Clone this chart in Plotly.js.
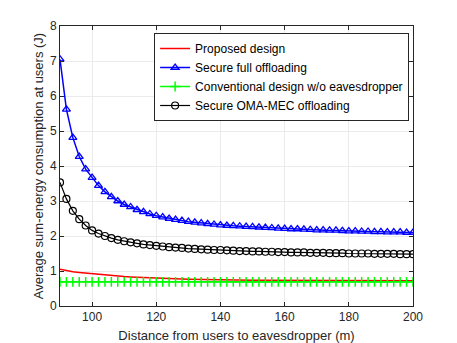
<!DOCTYPE html>
<html>
<head>
<meta charset="utf-8">
<script src="https://cdn.plot.ly/plotly-3.0.1.min.js"></script>
<style>
  html, body { margin: 0; padding: 0; background: #fff; }
  #plotArea { width: 457px; height: 343px; }
</style>
</head>
<body>
<div id="plotArea"></div>
<script>
// distance (m), step 2
var distance = [];
for (var d = 90; d <= 200; d += 2) distance.push(d);

var proposed = [1.05, 1.01, 0.98, 0.96, 0.94, 0.92, 0.90, 0.88, 0.87, 0.85,
  0.84, 0.83, 0.82, 0.81, 0.80, 0.79, 0.785, 0.78, 0.775, 0.77,
  0.765, 0.76, 0.756, 0.752, 0.748, 0.745, 0.743, 0.741, 0.739, 0.737,
  0.735, 0.734, 0.733, 0.732, 0.731, 0.730, 0.729, 0.728, 0.727, 0.726,
  0.725, 0.725, 0.724, 0.724, 0.723, 0.723, 0.722, 0.722, 0.721, 0.721,
  0.721, 0.720, 0.720, 0.720, 0.720, 0.720];

var fullOffload = [7.05, 5.62, 4.81, 4.27, 3.91, 3.67, 3.44, 3.26, 3.12, 3.00,
  2.90, 2.83, 2.75, 2.69, 2.63, 2.58, 2.54, 2.50, 2.47, 2.44,
  2.41, 2.39, 2.37, 2.35, 2.33, 2.31, 2.30, 2.29, 2.28, 2.27,
  2.26, 2.25, 2.24, 2.23, 2.22, 2.21, 2.20, 2.20, 2.19, 2.18,
  2.17, 2.17, 2.16, 2.16, 2.15, 2.14, 2.14, 2.13, 2.13, 2.12,
  2.12, 2.11, 2.11, 2.11, 2.10, 2.10];

var conventional = [];
for (var i = 0; i < distance.length; i++) conventional.push(0.69);

var omaMec = [3.53, 3.06, 2.72, 2.48, 2.30, 2.16, 2.07, 2.00, 1.94, 1.89,
  1.85, 1.82, 1.79, 1.76, 1.74, 1.72, 1.70, 1.68, 1.67, 1.66,
  1.64, 1.63, 1.62, 1.61, 1.60, 1.60, 1.59, 1.58, 1.57, 1.57,
  1.56, 1.56, 1.55, 1.55, 1.54, 1.54, 1.53, 1.53, 1.53, 1.52,
  1.52, 1.52, 1.51, 1.51, 1.51, 1.50, 1.50, 1.50, 1.50, 1.49,
  1.49, 1.49, 1.49, 1.48, 1.48, 1.48];

var xTicks = [100, 120, 140, 160, 180, 200];
var yTicks = [0, 1, 2, 3, 4, 5, 6, 7, 8];

var data = [
  {
    x: distance, y: proposed, name: "Proposed design",
    type: "scatter", mode: "lines",
    line: { color: "#ff0000", width: 1.5 }
  },
  {
    x: distance, y: fullOffload, name: "Secure full offloading",
    type: "scatter", mode: "lines+markers",
    line: { color: "#0000ff", width: 1.5 },
    marker: { symbol: "triangle-up-open", size: 7, color: "#0000ff", line: { width: 1.3 } }
  },
  {
    x: distance, y: conventional, name: "Conventional design w/o eavesdropper",
    type: "scatter", mode: "lines+markers",
    line: { color: "#00ff00", width: 1.5 },
    marker: { symbol: "cross-thin-open", size: 7, color: "#00ff00", line: { width: 1.5, color: "#00ff00" } }
  },
  {
    x: distance, y: omaMec, name: "Secure OMA-MEC offloading",
    type: "scatter", mode: "lines+markers",
    line: { color: "#000000", width: 1.2 },
    marker: { symbol: "circle-open", size: 7, color: "#000000", line: { width: 1.2 } }
  }
];

var axisStyle = {
  showline: true, mirror: "ticks", linecolor: "#262626", linewidth: 1,
  ticks: "inside", ticklen: 4, tickcolor: "#262626",
  showgrid: true, gridcolor: "#ebebeb", gridwidth: 1,
  zeroline: false,
  tickfont: { family: "Liberation Sans, Arial, sans-serif", size: 12, color: "#262626" }
};

var layout = {
  width: 457, height: 343,
  margin: { l: 60, r: 44, t: 26, b: 37 },
  paper_bgcolor: "#ffffff", plot_bgcolor: "#ffffff",
  font: { family: "Liberation Sans, Arial, sans-serif", size: 12, color: "#262626" },
  xaxis: Object.assign({}, axisStyle, {
    range: [90, 200], tickvals: xTicks,
    title: { text: "Distance from users to eavesdropper (m)", font: { size: 13 }, standoff: 8 }
  }),
  yaxis: Object.assign({}, axisStyle, {
    range: [0, 8], tickvals: yTicks,
    title: { text: "Average sum-energy consumption at users (J)", font: { size: 13 }, standoff: 3 }
  }),
  showlegend: true,
  legend: {
    x: 0.989, y: 0.975, xanchor: "right", yanchor: "top",
    bgcolor: "#ffffff", bordercolor: "#262626", borderwidth: 1,
    font: { size: 12, color: "#000000" },
    tracegroupgap: 0, itemwidth: 30
  }
};

Plotly.newPlot("plotArea", data, layout, { displayModeBar: false, staticPlot: true });
</script>
</body>
</html>
